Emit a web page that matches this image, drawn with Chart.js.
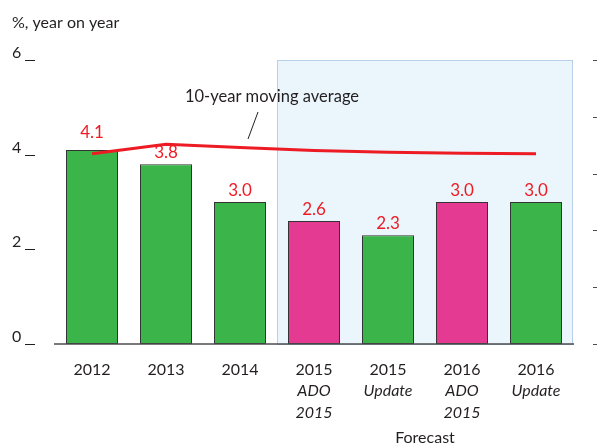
<!DOCTYPE html>
<html>
<head>
<meta charset="utf-8">
<script src="https://cdn.jsdelivr.net/npm/chart.js@4/dist/chart.umd.min.js"></script>
<style>
html,body{margin:0;padding:0;background:#fff;}
#wrap{width:597px;height:445px;position:relative;}
</style>
</head>
<body>
<div id="wrap"><canvas id="c" width="597" height="445"></canvas></div>
<script>
const categories = ['2012', '2013', '2014', '2015', '2015', '2016', '2016'];
const subLabels = [[], [], [], ['ADO', '2015'], ['Update'], ['ADO', '2015'], ['Update']];
const gdpGrowth = [4.1, 3.8, 3.0, 2.6, 2.3, 3.0, 3.0];
const barKinds = ['actual', 'actual', 'actual', 'ado', 'update', 'ado', 'update'];
const movingAverage = [4.02, 4.22, 4.15, 4.09, 4.05, 4.03, 4.02];
const yTicks = [0, 2, 4, 6];
const forecastStartIndex = 3;
const yTitle = '%, year on year';
const lineNote = '10-year moving average';
const forecastLabel = 'Forecast';

const GREEN = 'rgb(59,181,74)';
const PINK = 'rgb(228,58,146)';
const RED = 'rgb(237,28,36)';
const TEXT = '#231f20';
const FONT = 'Lato, "Open Sans", sans-serif';

const decorPlugin = {
  id: 'decor',
  beforeDatasetsDraw(chart) {
    const ctx = chart.ctx, x = chart.scales.x, y = chart.scales.y, ca = chart.chartArea;
    const left = (x.getPixelForValue(forecastStartIndex - 1) + x.getPixelForValue(forecastStartIndex)) / 2;
    const top = y.getPixelForValue(6);
    ctx.save();
    ctx.fillStyle = 'rgb(234,245,252)';
    ctx.fillRect(left, top, ca.right - left, ca.bottom - top);
    ctx.strokeStyle = 'rgb(184,208,232)';
    ctx.lineWidth = 1;
    ctx.strokeRect(Math.round(left) + 0.5, Math.round(top) + 0.5, Math.round(ca.right - left) - 1, Math.round(ca.bottom - top));
    ctx.restore();
  },
  afterDatasetsDraw(chart) {
    const ctx = chart.ctx, x = chart.scales.x, y = chart.scales.y, y2 = chart.scales.y2, ca = chart.chartArea;
    ctx.save();
    // axis baseline
    ctx.strokeStyle = '#4d4d4f';
    ctx.lineWidth = 1.5;
    ctx.beginPath();
    ctx.moveTo(ca.left - 1, y.getPixelForValue(0));
    ctx.lineTo(ca.right + 1, y.getPixelForValue(0));
    ctx.stroke();
    // left dashes
    ctx.strokeStyle = '#231f20';
    ctx.lineWidth = 1;
    yTicks.forEach(v => {
      const py = Math.round(y.getPixelForValue(v)) + 0.5;
      ctx.beginPath(); ctx.moveTo(25, py); ctx.lineTo(35, py); ctx.stroke();
    });
    // right dashes
    ctx.strokeStyle = '#4d4d4f';
    y2.ticks.forEach(t => {
      const py = Math.round(y2.getPixelForValue(t.value)) + 0.5;
      ctx.beginPath(); ctx.moveTo(593, py); ctx.lineTo(598, py); ctx.stroke();
    });
    // data labels
    const meta = chart.getDatasetMeta(0);
    const lineMeta = chart.getDatasetMeta(1);
    ctx.fillStyle = RED;
    ctx.font = '17px ' + FONT;
    ctx.textAlign = 'center';
    ctx.textBaseline = 'alphabetic';
    meta.data.forEach((bar, i) => {
      const lineY = lineMeta.data[i].y;
      let base = bar.y - 6;
      if (Math.abs(lineY - bar.y) < 10) base = Math.min(lineY, bar.y) - 12;
      ctx.fillText(gdpGrowth[i].toFixed(1), bar.x, base);
    });
    // title
    ctx.fillStyle = TEXT;
    ctx.textAlign = 'left';
    ctx.font = '16px ' + FONT;
    ctx.fillText(yTitle, 12, 28);
    // note
    ctx.textAlign = 'center';
    ctx.font = '16.5px ' + FONT;
    ctx.fillText(lineNote, 272, 102);
    ctx.strokeStyle = TEXT;
    ctx.lineWidth = 1;
    ctx.beginPath(); ctx.moveTo(258, 112); ctx.lineTo(248, 139); ctx.stroke();
    // sub labels
    ctx.font = 'italic 16px ' + FONT;
    subLabels.forEach((lines, i) => {
      const px = x.getPixelForValue(i);
      lines.forEach((s, j) => ctx.fillText(s, px, 396 + j * 22));
    });
    ctx.font = '16px ' + FONT;
    ctx.fillText(forecastLabel, (x.getPixelForValue(4) + x.getPixelForValue(5)) / 2, 443);
    ctx.restore();
  }
};

new Chart(document.getElementById('c'), {
  data: {
    labels: categories,
    datasets: [
      {
        type: 'bar',
        data: gdpGrowth,
        backgroundColor: barKinds.map(k => k === 'ado' ? PINK : GREEN),
        borderColor: '#333333',
        borderWidth: 1,
        borderSkipped: false,
        categoryPercentage: 1,
        barPercentage: 0.703,
        order: 2
      },
      {
        type: 'line',
        data: movingAverage,
        borderColor: RED,
        borderWidth: 3,
        pointRadius: 0,
        tension: 0,
        order: 1
      }
    ]
  },
  options: {
    responsive: false,
    animation: false,
    layout: { padding: { top: 60, left: 12, right: 0, bottom: 0 } },
    plugins: { legend: { display: false }, tooltip: { enabled: false } },
    scales: {
      x: {
        grid: { display: false },
        border: { display: false },
        ticks: { color: TEXT, font: { family: FONT, size: 16 }, padding: 8, maxRotation: 0, autoSkip: false },
        afterFit(s) { s.height = 101; }
      },
      y: {
        min: 0, max: 6,
        afterBuildTicks(s) { s.ticks = yTicks.map(v => ({ value: v })); },
        grid: { display: false },
        border: { display: false },
        ticks: { color: TEXT, font: { family: FONT, size: 16 }, crossAlign: 'far', labelOffset: -7, padding: 0 },
        afterFit(s) { s.width = 43; }
      },
      y2: {
        position: 'right',
        min: 0, max: 5,
        ticks: { display: false, stepSize: 1 },
        grid: { display: false },
        border: { display: false },
        afterFit(s) { s.width = 24; }
      }
    }
  },
  plugins: [decorPlugin]
});
</script>
</body>
</html>
